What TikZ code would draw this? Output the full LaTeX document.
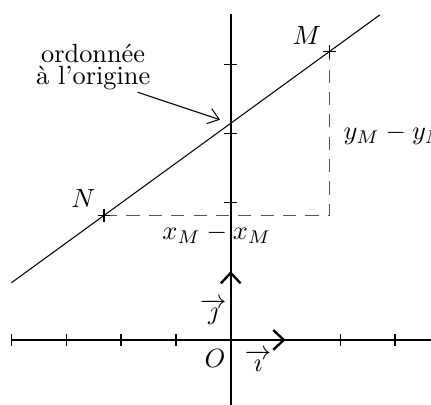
\documentclass[tikz,border=0pt]{standalone}
\usepackage{amsmath,amssymb}
\usepackage{xcolor}
\usetikzlibrary{arrows.meta,positioning}
\definecolor{rpDash}{HTML}{555555}
\tikzset{
  rp diagram/.style={x=0.7319cm,y=0.919cm,line cap=butt},
  rp axis/.style={draw=black,line width=0.6pt},
  rp tick/.style={draw=black,line width=0.5pt},
  rp vector/.style={-{Straight Barb[length=4pt,width=7.5pt]},draw=black,line width=0.9pt},
  rp line/.style={draw=black,line width=0.4pt},
  rp guide/.style={draw=rpDash,line width=0.6pt,dash pattern=on 5pt off 3.5pt},
  rp cross/.style={draw=black,line width=0.5pt},
  rp pointer/.style={-{Straight Barb[length=4pt,width=6pt]},draw=black,line width=0.4pt},
  rp label/.style={inner sep=0pt}
}

\begin{document}
\begin{tikzpicture}[rp diagram]
\useasboundingbox (-4.21,-0.945) rectangle (3.655,4.94);
% axes
\coordinate (O) at (0,0);
\coordinate (xl) at (-4,0);
\coordinate (xr) at (3.655,0);
\coordinate (yb) at (0,-0.945);
\coordinate (yt) at (0,4.74);
\draw[rp axis] (xl) -- (xr);
\draw[rp axis] (yb) -- (yt);
\foreach \t in {-4,-3,-2,-1,2,3}
  \draw[rp tick] (\t,0) ++(0,-2.2pt) -- ++(0,4.4pt);
\foreach \t in {2,3,4}
  \draw[rp tick] (0,\t) ++(-2.4pt,0) -- ++(4.8pt,0);
% unit vectors
\coordinate (I) at (1,0);
\coordinate (J) at (0,1);
\draw[rp vector] (O) -- (I);
\draw[rp vector] (O) -- (J);
\node[rp label,anchor=east] (lO) at (-0.086,-0.266) {$O$};
\node[rp label] (li) at (0.50,-0.30) {$\overrightarrow{\imath}$};
\node[rp label,anchor=east] (lj) at (-0.068,0.41) {$\overrightarrow{\jmath}$};
% the line
\coordinate (N) at (-2.31,1.81);
\coordinate (M) at (1.80,4.19);
\coordinate (C) at (1.80,1.81);
\coordinate (B) at (0,3.148);
\coordinate (la) at (-4,0.832);
\coordinate (lb) at (2.72,4.723);
\draw[rp line] (la) -- (lb);
\draw[rp guide] (N) -- node[rp label,below=3pt] (dx) {$x_M-x_M$} (C) -- (M);
\foreach \p in {N,M}
  \draw[rp cross] (\p) ++(-2.4pt,0) -- ++(4.8pt,0) (\p) ++(0,-2.4pt) -- ++(0,4.8pt);
\node[rp label] (lN) at (-2.69,2.05) {$N$};
\node[rp label] (lM) at (1.387,4.43) {$M$};
\node[rp label,anchor=west] (dy) at (2.05,2.98) {$y_M-y_N$};
% intercept
\node[align=center,inner sep=1pt] (ord) at (-2.51,3.97) {ordonnée\\[-3.5pt]à l'origine};
\coordinate (ps) at (-1.70,3.60);
\coordinate (pe) at (-0.195,3.20);
\draw[rp pointer] (ps) -- (pe);
\end{tikzpicture}
\end{document}
